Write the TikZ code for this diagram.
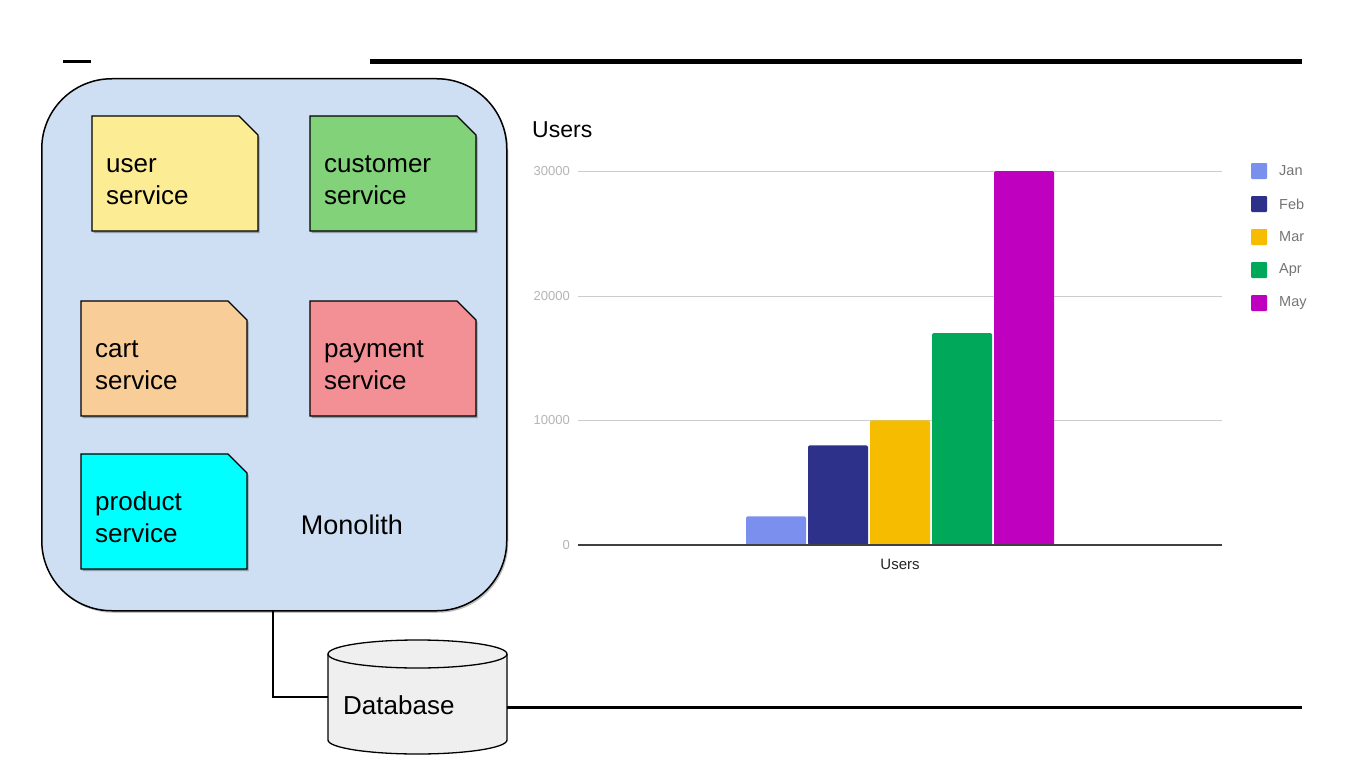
\documentclass[tikz,border=0pt]{standalone}
\usepackage{fontspec}
\setmainfont{Liberation Sans}
\usetikzlibrary{shadows}
\definecolor{monofill}{HTML}{CFDFF3}
\definecolor{cUser}{HTML}{FCEC94}
\definecolor{cCust}{HTML}{82D27A}
\definecolor{cCart}{HTML}{F9CD98}
\definecolor{cPay}{HTML}{F29095}
\definecolor{cProd}{HTML}{00FFFF}
\definecolor{dbfill}{HTML}{EFEFEF}
\definecolor{bJan}{HTML}{7A8FEE}
\definecolor{bFeb}{HTML}{2E318A}
\definecolor{bMar}{HTML}{F5BC00}
\definecolor{bApr}{HTML}{00A95A}
\definecolor{bMay}{HTML}{BF00BF}
\definecolor{gridc}{HTML}{CCCCCC}
\definecolor{ticklbl}{HTML}{B5B5B5}
\definecolor{leglbl}{HTML}{757575}
\newcommand\foldcard[2]{%
  \draw[cardline, fill=#2, drop shadow={shadow xshift=1.5pt, shadow yshift=-2pt, opacity=0.3, fill=black}]
    (#1.south west) -- (#1.north west) -- ([xshift=-19pt]#1.north east)
    -- ([yshift=-19pt]#1.north east) -- (#1.south east) -- cycle;}
\tikzset{
  cardbox/.style={rectangle, draw=none, inner sep=0pt, outer sep=0pt, minimum width=166pt, minimum height=115pt, anchor=north west},
  cardline/.style={draw=black, line width=1.3pt},
  cardlbl/.style={inner sep=0pt, anchor=west, align=left, font=\fontsize{26}{32}\selectfont},
  bigtxt/.style={inner sep=0pt, font=\fontsize{26}{32}\selectfont},
  gridline/.style={draw=gridc, line width=1pt},
  bar/.style={rectangle, draw=none, inner sep=0pt, outer sep=0pt, minimum width=60pt, anchor=south west, rounded corners=1.5pt},
  legsq/.style={rectangle, draw=none, inner sep=0pt, minimum size=16pt, rounded corners=1pt},
  legtxt/.style={inner sep=0pt, anchor=west, text=leglbl, font=\fontsize{14.5}{17}\selectfont},
  ticktxt/.style={inner sep=0pt, anchor=east, text=ticklbl, font=\fontsize{13}{15}\selectfont},
}
\begin{document}
\begin{tikzpicture}[x=1pt,y=-1pt]
\useasboundingbox[fill=white] (0,0) rectangle (1366,768);

% top rules
\coordinate (s1) at (63,62); \coordinate (s2) at (91,62);
\coordinate (l1) at (370,62); \coordinate (l2) at (1302,62);
\draw[line width=3pt] (s1) -- (s2);
\draw[line width=5pt] (l1) -- (l2);

% monolith
\node[rectangle, draw=black, line width=1.5pt, fill=monofill, rounded corners=70pt,
      minimum width=465pt, minimum height=532pt, anchor=north west, inner sep=0pt,
      drop shadow={shadow xshift=1.5pt, shadow yshift=-2pt, opacity=0.25, fill=black}] (mono) at (41,78) {};

% cards
\node[cardbox] (user) at (92,116) {};
\foldcard{user}{cUser}
\node[cardlbl] (userl) at ([xshift=14pt,yshift=-9pt]user.west) {\strut user\\\strut service};

\node[cardbox] (cust) at (310,116) {};
\foldcard{cust}{cCust}
\node[cardlbl] (custl) at ([xshift=14pt,yshift=-9pt]cust.west) {\strut customer\\\strut service};

\node[cardbox] (cart) at (81,301) {};
\foldcard{cart}{cCart}
\node[cardlbl] (cartl) at ([xshift=14pt,yshift=-9pt]cart.west) {\strut cart\\\strut service};

\node[cardbox] (pay) at (310,301) {};
\foldcard{pay}{cPay}
\node[cardlbl] (payl) at ([xshift=14pt,yshift=-9pt]pay.west) {\strut payment\\\strut service};

\node[cardbox] (prod) at (81,454) {};
\foldcard{prod}{cProd}
\node[cardlbl] (prodl) at ([xshift=14pt,yshift=-9pt]prod.west) {\strut product\\\strut service};

\node[bigtxt, font=\fontsize{27}{32}\selectfont] (monol) at (352,525) {Monolith};

% database
\node[rectangle, draw=none, inner sep=0pt, minimum width=179pt, minimum height=114pt, anchor=north west] (db) at (328,640) {};
\draw[line width=1.3pt, fill=dbfill]
  (328,654) -- (328,740) arc[start angle=180, end angle=360, x radius=89.5pt, y radius=14pt]
  -- (507,654) arc[start angle=0, end angle=180, x radius=89.5pt, y radius=14pt] -- cycle;
\draw[line width=1.3pt] (328,654) arc[start angle=180, end angle=360, x radius=89.5pt, y radius=14pt];
\node[bigtxt, anchor=west] (dbl) at (343,705) {Database};

% connectors
\coordinate (mdrop) at (273,610);
\coordinate (dbleft) at (328,697);
\draw[line width=1.3pt] (mdrop) |- (dbleft);
\coordinate (dbright) at (507,707);
\coordinate (rend) at (1302,707);
\draw[line width=3pt] (dbright) -- (rend);

% chart
\node[inner sep=0pt, anchor=base west, font=\fontsize{23}{27}\selectfont] (ctitle) at (532,137) {Users};
\foreach \v/\y in {30000/171, 20000/296, 10000/420} {
  \coordinate (g\v a) at (578,\y); \coordinate (g\v b) at (1222,\y);
  \draw[gridline] (g\v a) -- (g\v b);
  \node[ticktxt] (t\v) at (570,\y) {\v};
}
\node[ticktxt] (t0) at (570,545) {0};

\node[bar, fill=bJan, minimum height=28.7pt] (jan) at (746,545) {};
\node[bar, fill=bFeb, minimum height=99.7pt] (feb) at (808,545) {};
\node[bar, fill=bMar, minimum height=124.7pt] (mar) at (870,545) {};
\node[bar, fill=bApr, minimum height=212pt] (apr) at (932,545) {};
\node[bar, fill=bMay, minimum height=374pt] (may) at (994,545) {};

\coordinate (axa) at (578,545); \coordinate (axb) at (1222,545);
\draw[draw=black!75, line width=1.5pt] (axa) -- (axb);
\node[inner sep=0pt, text=black!85, font=\fontsize{15}{18}\selectfont] (xlbl) at (900,564) {Users};

% legend
\foreach \n/\c/\y in {Jan/bJan/171, Feb/bFeb/204, Mar/bMar/237, Apr/bApr/270, May/bMay/303} {
  \node[legsq, fill=\c] (sq\n) at (1259,\y) {};
  \node[legtxt] (lt\n) at (1279,\y) {\n};
}
\end{tikzpicture}
\end{document}
